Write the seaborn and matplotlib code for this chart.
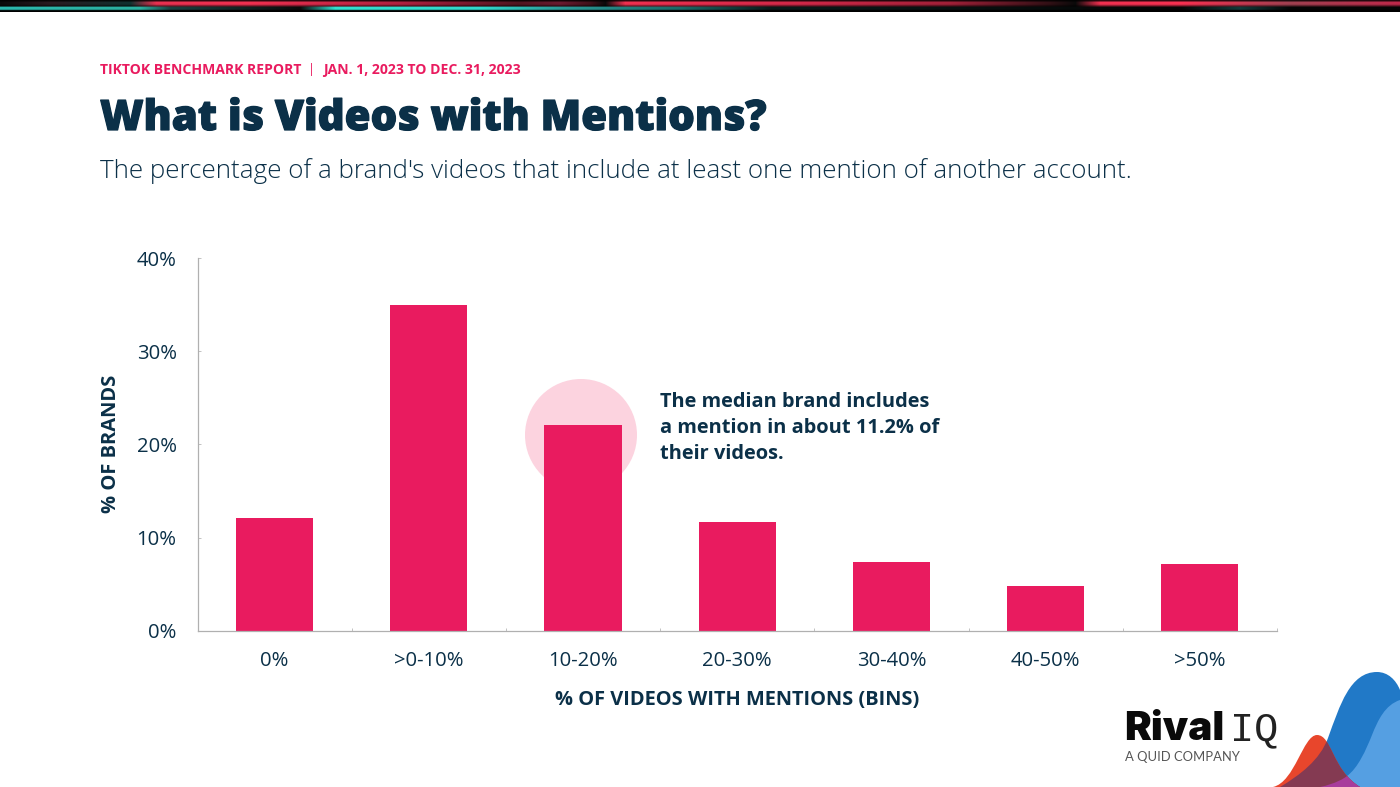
import numpy as np
import pandas as pd
import seaborn as sns
import matplotlib
matplotlib.use("Agg")
import matplotlib.pyplot as plt
import matplotlib.patheffects as pe
from matplotlib.patches import Circle, PathPatch
from matplotlib.path import Path
from matplotlib.colors import to_rgb

categories = ["0%", ">0-10%", "10-20%", "20-30%", "30-40%", "40-50%", ">50%"]
brand_share = [12.1, 35.0, 22.1, 11.7, 7.4, 4.8, 7.2]
y_ticks = [0, 10, 20, 30, 40]
y_tick_labels = ["0%", "10%", "20%", "30%", "40%"]

NAVY = "#0b3048"
PINK = "#e91b5f"
FONT = "Open Sans"

W, H = 1400, 787
fig = plt.figure(figsize=(14, 7.87), dpi=100, facecolor="white")

bg = fig.add_axes([0, 0, 1, 1], zorder=0)
bg.set_xlim(0, W)
bg.set_ylim(H, 0)
bg.axis("off")

# top strip
up_x = [0, 50, 130, 156, 250, 400, 518, 560, 590, 605, 625, 800, 950, 1050, 1075, 1100, 1180, 1290, 1400]
up_c = ["#0a0a0a", "#2a1a20", "#10302f", "#e83050", "#f03050", "#b02040", "#501520", "#6a1a30", "#40101a", "#0a0a0a",
        "#f03050", "#d02848", "#a02038", "#301015", "#0a0a0a", "#f03050", "#f83050", "#a04050", "#c0284a"]
lo_x = [0, 140, 170, 300, 335, 480, 560, 680, 770, 1180, 1240, 1290, 1400]
lo_c = ["#2cb8ae", "#2ab0a0", "#1a4040", "#0a0a0a", "#30e0d0", "#30d8cc", "#2a9a98", "#1a6a68", "#0a1a1a",
        "#050505", "#123a3a", "#050505", "#050505"]
xs = np.arange(W)
def row(sx, cols):
    arr = np.array([to_rgb(c) for c in cols])
    return np.stack([np.interp(xs, sx, arr[:, i]) for i in range(3)], axis=1)
u, l = row(up_x, up_c), row(lo_x, lo_c)
strip = np.stack([u * 0.2, u * 0.6, u, u, u * 0.9, u * 0.6, u * 0.25 + l * 0.4, l, l, l * 0.8, l * 0.1, l * 0.0])
bg.imshow(strip, extent=(0, W, 12, 0), aspect="auto", interpolation="nearest", zorder=1)
bg.set_xlim(0, W)
bg.set_ylim(H, 0)

bg.add_patch(Circle((581, 435), 56, fc="#fcd3df", ec="none", zorder=1))

bg.text(100, 70, "TIKTOK BENCHMARK REPORT", color=PINK, fontsize=10.1, fontweight="bold", family=FONT, va="center")
bg.text(311, 70, "|", color=PINK, fontsize=9, family=FONT, va="center", ha="center")
bg.text(323, 70, "JAN. 1, 2023 TO DEC. 31, 2023", color=PINK, fontsize=10.1, fontweight="bold", family=FONT, va="center")
title = bg.text(100, 119, "What is Videos with Mentions?", color=NAVY, fontsize=30.2, fontweight=800, family=FONT, va="center")
title.set_path_effects([pe.withStroke(linewidth=0.9, foreground=NAVY)])
bg.text(100, 171, "The percentage of a brand's videos that include at least one mention of another account.",
        color=NAVY, fontsize=18.75, fontweight=300, family=FONT, va="center")

ax = fig.add_axes([197.5 / W, 1 - 630.5 / H, (1277 - 197.5) / W, 372 / H], zorder=1)
ax.patch.set_alpha(0)
df = pd.DataFrame({"bin": categories, "share": brand_share})
sns.barplot(data=df, x="bin", y="share", color=PINK, saturation=1, width=0.5, ax=ax)
ax.set_xlim(-0.5, 6.5)
ax.set_ylim(0, 40)
ax.set_yticks(y_ticks)
ax.set_yticklabels(y_tick_labels)
ax.set_xticks(range(len(categories)))
ax.set_xticklabels(categories)
ax.set_xticks(np.arange(-0.5, 7, 1), minor=True)
for s in ("top", "right"):
    ax.spines[s].set_visible(False)
for s in ("left", "bottom"):
    ax.spines[s].set_color("#b0b0b0")
    ax.spines[s].set_linewidth(0.9)
ax.tick_params(axis="y", direction="in", length=2.5, width=0.6, color="#b8b8b8", labelsize=14.6, labelcolor=NAVY, pad=15)
ax.tick_params(axis="x", which="major", length=0, labelsize=14.6, labelcolor=NAVY, pad=14.5)
ax.tick_params(axis="x", which="minor", direction="in", length=2.5, width=0.6, color="#b8b8b8")
for lab in ax.get_xticklabels() + ax.get_yticklabels():
    lab.set_family(FONT)
ax.set_xlabel("")
ax.set_ylabel("")

bg.text(737, 700.5, "% OF VIDEOS WITH MENTIONS (BINS)", color=NAVY, fontsize=14.4, fontweight="bold", family=FONT, ha="center", va="center")
bg.text(111, 444, "% OF BRANDS", color=NAVY, fontsize=14.5, fontweight="bold", family=FONT, ha="center", va="center", rotation=90)
bg.text(660, 428, "The median brand includes\na mention in about 11.2% of\ntheir videos.", color=NAVY, fontsize=14.4,
        fontweight="bold", family=FONT, va="center", linespacing=1.41, zorder=3)

# logo
top = fig.add_axes([0, 0, 1, 1], zorder=2)
top.set_xlim(0, W)
top.set_ylim(H, 0)
top.axis("off")

def shape(start, curves):
    verts, codes = [start], [Path.MOVETO]
    for c in curves:
        verts += c
        codes += [Path.LINETO] if len(c) == 1 else [Path.CURVE4] * 3
    verts.append(start)
    codes.append(Path.CLOSEPOLY)
    return Path(verts, codes)

blue_path = shape((1280, 787), [[(1300, 775), (1320, 760), (1328, 738)],
                                [(1340, 705), (1350, 672), (1377, 672)],
                                [(1388, 672), (1396, 680), (1400, 690)],
                                [(1400, 787)]])
light_path = shape((1320, 787), [[(1335, 784), (1345, 778), (1347, 776)],
                                 [(1358, 768), (1366, 750), (1372, 735)],
                                 [(1378, 720), (1385, 705), (1400, 700)],
                                 [(1400, 787)]])
red_path = shape((1273, 787), [[(1295, 782), (1303, 735), (1317, 735)],
                               [(1332, 735), (1332, 770), (1360, 787)]])

top.add_patch(PathPatch(blue_path, fc="#2179c7", ec="none", zorder=1))
top.add_patch(PathPatch(light_path, fc="#559fe2", ec="none", zorder=2))
top.add_patch(PathPatch(red_path, fc="#e8462c", ec="none", zorder=3))
maroon = PathPatch(red_path, fc="#843a52", ec="none", zorder=4)
top.add_patch(maroon)
maroon.set_clip_path(PathPatch(blue_path, transform=top.transData))
purple = PathPatch(red_path, fc="#a83c9c", ec="none", zorder=5)
top.add_patch(purple)
purple.set_clip_path(PathPatch(light_path, transform=top.transData))

top.text(1124, 729, "Rival", color="#0a0a0a", fontsize=29, fontweight=900, family="Inter", va="center", ha="left")
top.text(1230, 729, "IQ", color="#222222", fontsize=29, family="Liberation Mono", va="center", ha="left")
top.text(1125, 757, "A QUID COMPANY", color="#555555", fontsize=9.4, family="Lato", va="center", ha="left")

fig.savefig("out.png", dpi=100)
